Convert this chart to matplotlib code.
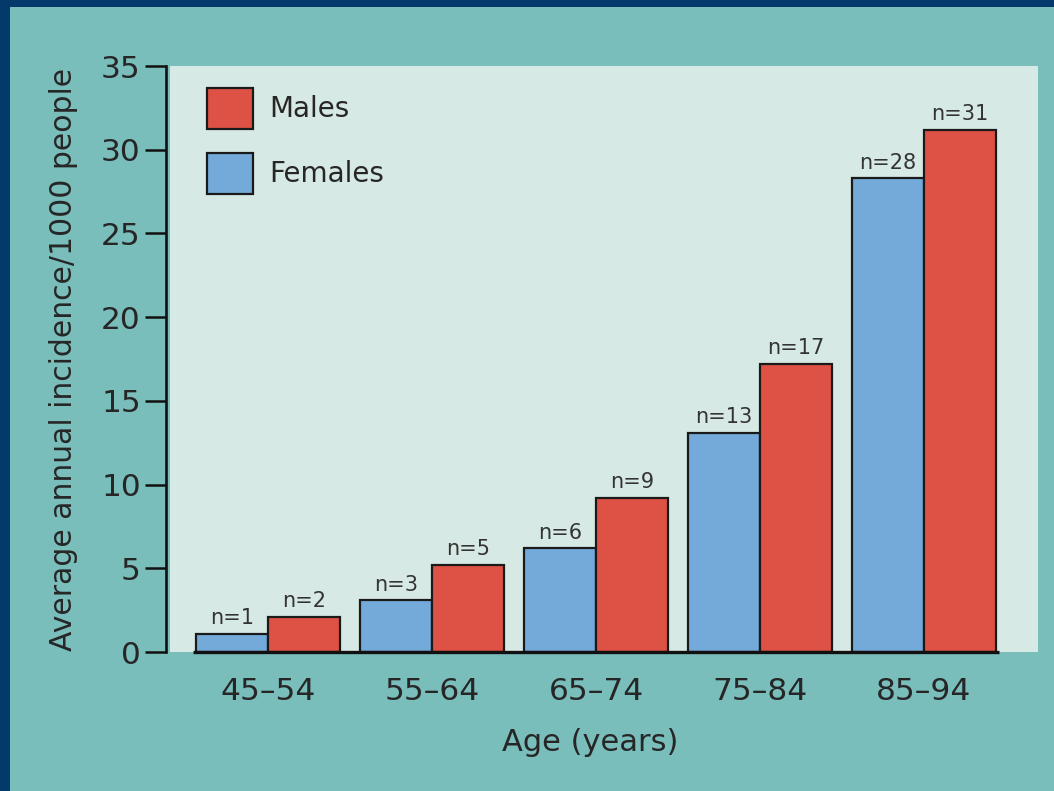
import matplotlib
matplotlib.use("Agg")
import matplotlib.pyplot as plt
from matplotlib.patches import Rectangle

# Average annual incidence per 1000 people, by age band and sex
age_groups = ["45–54", "55–64", "65–74", "75–84", "85–94"]
females = [1.1, 3.1, 6.2, 13.1, 28.3]
males = [2.1, 5.2, 9.2, 17.2, 31.2]
females_n = [1, 3, 6, 13, 28]
males_n = [2, 5, 9, 17, 31]

NAVY = "#03396B"
TEAL = "#7ABEBC"
PANEL = "#D7E9E4"
RED = "#DD5244"
BLUE = "#74AAD9"
INK = "#262626"

plt.rcParams["font.family"] = ["DejaVu Sans"]

W, H = 1054, 791
fig = plt.figure(figsize=(W / 100, H / 100), dpi=100, facecolor=NAVY)
fig.patches.append(Rectangle((10 / W, 0), 1, (H - 7) / H, transform=fig.transFigure,
                             facecolor=TEAL, edgecolor="none", zorder=-10))

ax = fig.add_axes([170 / W, (H - 652) / H, 868 / W, 586 / H])
ax.set_facecolor(PANEL)

x = list(range(len(age_groups)))
bw = 0.44
fb = ax.bar([i - bw / 2 for i in x], females, width=bw, color=BLUE,
            edgecolor="#1a1a1a", linewidth=1.6, label="Females", zorder=3)
mb = ax.bar([i + bw / 2 for i in x], males, width=bw, color=RED,
            edgecolor="#1a1a1a", linewidth=1.6, label="Males", zorder=3)

for rects, counts in ((fb, females_n), (mb, males_n)):
    for r, n in zip(rects, counts):
        ax.annotate(f"n={n}", (r.get_x() + r.get_width() / 2, r.get_height()),
                    xytext=(0, 4), textcoords="offset points", ha="center",
                    va="bottom", fontsize=15, color="#333333")

# baseline under the bars only
ax.plot([x[0] - bw - 0.02, x[-1] + bw + 0.02], [0, 0], color="#111111",
        lw=2.4, solid_capstyle="butt", clip_on=False, zorder=4)

ax.set_xlim(-0.5976, 4.695)
ax.set_ylim(0, 35)
ax.set_yticks(range(0, 36, 5))
ax.set_xticks(x)
ax.set_xticklabels(age_groups)

for s in ("top", "right", "bottom"):
    ax.spines[s].set_visible(False)
ax.spines["left"].set_position(("outward", 3))
ax.spines["left"].set_linewidth(1.9)
ax.spines["left"].set_color("#111111")

ax.tick_params(axis="y", length=15, width=1.8, color="#111111", pad=3,
               labelsize=22.5, labelcolor=INK)
ax.tick_params(axis="x", length=0, pad=18, labelsize=22.5, labelcolor=INK)

ax.set_ylabel("Average annual incidence/1000 people", fontsize=21.5, color=INK)
ax.yaxis.set_label_coords(-0.106, 0.5)
ax.set_xlabel("Age (years)", fontsize=22, color=INK)
ax.xaxis.set_label_coords(0.484, -0.13)

ax.legend(handles=[mb, fb], labels=["Males", "Females"], loc="upper left",
          bbox_to_anchor=(37 / 868, 1 - 22 / 586), frameon=False, fontsize=20,
          handlelength=1.65, handleheight=1.9, handletextpad=0.6,
          labelspacing=0.85, borderpad=0, borderaxespad=0, labelcolor=INK)

fig.savefig("out.png", dpi=100, facecolor=NAVY)
